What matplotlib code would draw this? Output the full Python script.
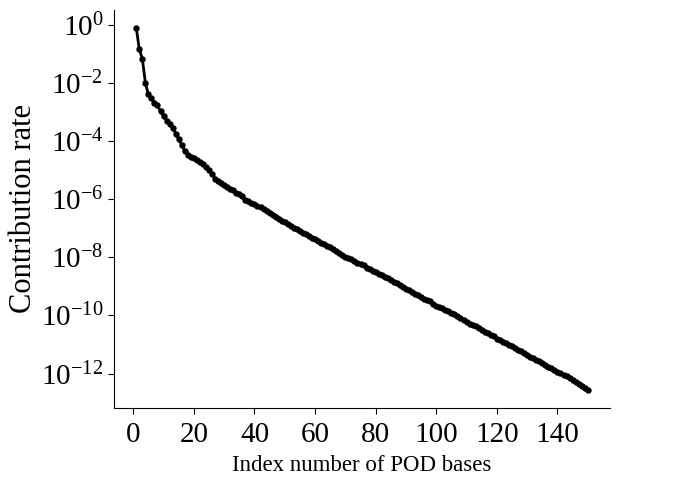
import numpy as np
import matplotlib
matplotlib.use("Agg")
import matplotlib.pyplot as plt
from matplotlib.ticker import LogFormatterSciNotation, NullLocator

# log10 of the contribution rate, one per POD basis
exponents = [
    -0.11, -0.85, -1.17, -2.00, -2.40, -2.52, -2.68, -2.78, -2.98, -3.15,
    -3.30, -3.40, -3.55, -3.75, -3.93, -4.15, -4.35, -4.47, -4.55, -4.60,
    -4.64, -4.72, -4.80, -4.90, -5.00, -5.12, -5.30, -5.38, -5.45, -5.50,
    -5.57, -5.65, -5.70, -5.78, -5.82, -5.90, -6.02, -6.08, -6.12, -6.18,
    -6.22, -6.28, -6.35, -6.42, -6.48, -6.54, -6.62, -6.70, -6.74, -6.78,
    -6.85, -6.92, -6.98, -7.04, -7.10, -7.15, -7.20, -7.28, -7.32, -7.36,
    -7.44, -7.50, -7.54, -7.60, -7.66, -7.72, -7.78, -7.85, -7.92, -7.98,
    -8.02, -8.06, -8.12, -8.18, -8.24, -8.28, -8.36, -8.42, -8.47, -8.52,
    -8.56, -8.62, -8.68, -8.72, -8.78, -8.84, -8.90, -8.95, -9.02, -9.08,
    -9.13, -9.18, -9.25, -9.30, -9.36, -9.42, -9.48, -9.52, -9.60, -9.66,
    -9.72, -9.76, -9.80, -9.84, -9.90, -9.96, -10.02, -10.10, -10.16, -10.22,
    -10.28, -10.32, -10.38, -10.44, -10.50, -10.56, -10.62, -10.66, -10.72, -10.80,
    -10.86, -10.90, -10.95, -11.00, -11.06, -11.12, -11.18, -11.24, -11.30, -11.36,
    -11.42, -11.46, -11.52, -11.58, -11.64, -11.70, -11.76, -11.82, -11.88, -11.94,
    -11.99, -12.04, -12.10, -12.16, -12.22, -12.30, -12.36, -12.42, -12.48, -12.56,
]
index = np.arange(1, len(exponents) + 1)
rate = 10.0 ** np.array(exponents)

y_tick_exps = [0, -2, -4, -6, -8, -10, -12]
x_ticks = [0, 20, 40, 60, 80, 100, 120, 140]

plt.rcParams["font.family"] = ["Liberation Serif", "DejaVu Serif"]
plt.rcParams["mathtext.fontset"] = "custom"
plt.rcParams["mathtext.rm"] = "Liberation Serif"
plt.rcParams["mathtext.it"] = "Liberation Serif:italic"
plt.rcParams["mathtext.bf"] = "Liberation Serif:bold"

fig = plt.figure(figsize=(6.85, 4.88), dpi=100)
ax = fig.add_axes([0.166, 0.164, 0.725, 0.816])

ax.plot(index, rate, color="black", lw=2.0, marker="o", ms=3.6)
ax.set_yscale("log")

ax.set_yticks([10.0 ** k for k in y_tick_exps])
ax.yaxis.set_major_formatter(LogFormatterSciNotation())
ax.yaxis.set_minor_locator(NullLocator())
ax.set_xticks(x_ticks)

ax.spines["top"].set_visible(False)
ax.spines["right"].set_visible(False)
ax.tick_params(labelsize=21, length=4, width=0.8)
ax.tick_params(axis="x", pad=6)

ax.set_xlabel("Index number of POD bases", fontsize=16.5, labelpad=5)
ax.set_ylabel("Contribution rate", fontsize=22, labelpad=2)

fig.savefig("out.png", dpi=100)
